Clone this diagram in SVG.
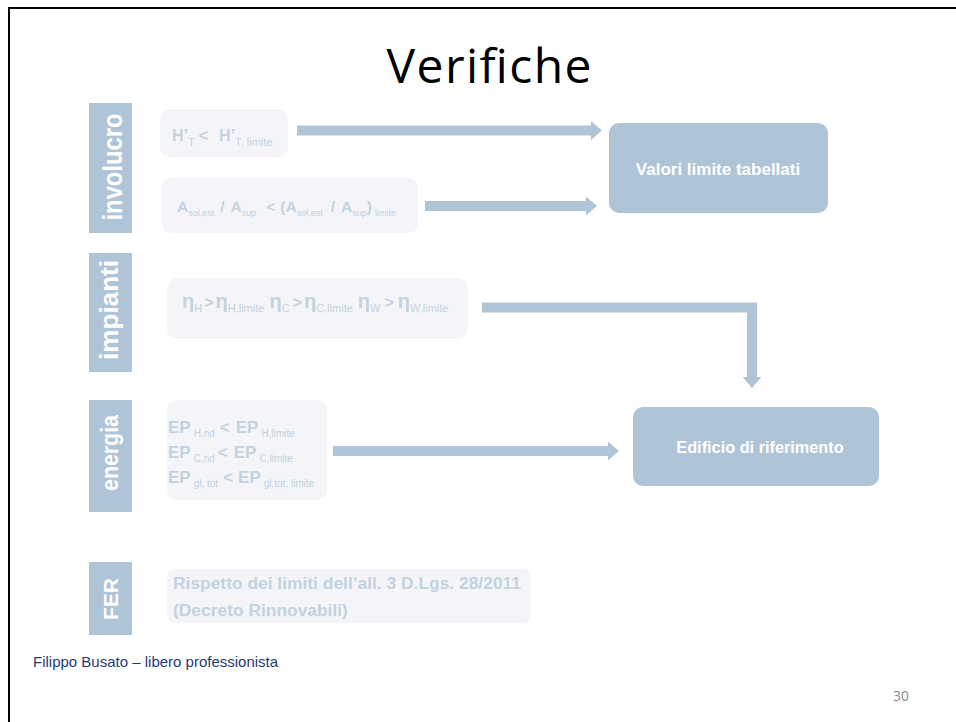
<svg xmlns="http://www.w3.org/2000/svg" width="956" height="722" viewBox="0 0 956 722">
<style>
.bar{fill:#afc5d7}
.lbox{fill:#f4f5f9}
.rbox{fill:#afc5d7}
.vt{font-family:"Liberation Sans",Arial,sans-serif;font-weight:bold;fill:#ffffff;text-anchor:middle}
.lt{font-family:"Liberation Sans",Arial,sans-serif;font-weight:bold;fill:#c3d2df}
.s{font-weight:normal}
.rt{font-family:"Liberation Sans",Arial,sans-serif;font-weight:bold;fill:#ffffff;text-anchor:middle}
.conn{fill:none;stroke:#afc5d7;stroke-width:10;stroke-linejoin:miter}
</style>
<defs>
<marker id="ah" markerUnits="userSpaceOnUse" markerWidth="11" markerHeight="19" refX="0" refY="9.5" orient="auto">
<path d="M0,0 L11,9.5 L0,19 Z" fill="#afc5d7"/>
</marker>
</defs>
<rect width="956" height="722" fill="#ffffff"/>
<path d="M9,722 V8 H956" fill="none" stroke="#000000" stroke-width="2"/>
<text x="489" y="83" font-family="'Open Sans','Noto Sans',sans-serif" font-size="48" text-anchor="middle" textLength="205" fill="#000000">Verifiche</text>

<g id="connectors">
<path class="conn" d="M297,130.5 H591" marker-end="url(#ah)"/>
<path class="conn" d="M425,206 H586" marker-end="url(#ah)"/>
<path class="conn" d="M482,307.5 H752 V377" marker-end="url(#ah)"/>
<path class="conn" d="M333,451 H608" marker-end="url(#ah)"/>
</g>

<g id="involucro">
<rect class="bar" x="89" y="103" width="43" height="130"/>
<text class="vt" font-size="27" transform="translate(121.5,167) rotate(-90)" textLength="107" lengthAdjust="spacingAndGlyphs">involucro</text>
</g>
<g id="impianti">
<rect class="bar" x="89" y="253" width="43" height="119"/>
<text class="vt" font-size="26" transform="translate(117.5,310) rotate(-90)" textLength="100" lengthAdjust="spacingAndGlyphs">impianti</text>
</g>
<g id="energia">
<rect class="bar" x="89" y="400" width="43" height="112"/>
<text class="vt" font-size="23" transform="translate(118,453) rotate(-90)" textLength="76" lengthAdjust="spacingAndGlyphs">energia</text>
</g>
<g id="fer">
<rect class="bar" x="89" y="562" width="43" height="73"/>
<text class="vt" font-size="21" transform="translate(118,599) rotate(-90)">FER</text>
</g>

<g id="h-t">
<rect class="lbox" x="160" y="109" width="128" height="48" rx="9"/>
<text class="lt" font-size="16" x="172" y="141">H’<tspan class="s" font-size="11" dy="5">T</tspan><tspan dx="4" dy="-5">&lt;</tspan><tspan dx="11">H’</tspan><tspan class="s" font-size="11" dy="5">T, limite</tspan></text>
</g>
<g id="a-sol">
<rect class="lbox" x="162" y="178" width="256" height="55" rx="9"/>
<text class="lt" font-size="15.5" x="177" y="212">A<tspan class="s" font-size="9" dy="4">sol,est</tspan><tspan dx="6" dy="-4">/</tspan><tspan dx="6">A</tspan><tspan class="s" font-size="9" dy="4">sup</tspan><tspan dx="10" dy="-4">&lt;</tspan><tspan dx="5">(A</tspan><tspan class="s" font-size="9" dy="4">sol,est</tspan><tspan dx="8" dy="-4">/</tspan><tspan dx="6">A</tspan><tspan class="s" font-size="9" dy="4">sup</tspan><tspan dy="-4">)</tspan><tspan class="s" font-size="9" dx="3" dy="4">limite</tspan></text>
</g>
<g id="eta">
<rect class="lbox" x="167" y="278" width="301" height="61" rx="10"/>
<text class="lt" font-size="20" x="182" y="308">η<tspan class="s" font-size="11" dy="4">H</tspan><tspan font-size="16" dx="2" dy="-4">&gt;</tspan><tspan dx="2">η</tspan><tspan class="s" font-size="11" dy="4">H,limite</tspan><tspan dx="5" dy="-4">η</tspan><tspan class="s" font-size="11" dy="4">C</tspan><tspan font-size="16" dx="3" dy="-4">&gt;</tspan><tspan dx="2">η</tspan><tspan class="s" font-size="11" dy="4">C,limite</tspan><tspan dx="5" dy="-4">η</tspan><tspan class="s" font-size="11" dy="4">W</tspan><tspan font-size="16" dx="4" dy="-4">&gt;</tspan><tspan dx="4">η</tspan><tspan class="s" font-size="11" dy="4">W,limite</tspan></text>
</g>
<g id="ep">
<rect class="lbox" x="167" y="400" width="160" height="100" rx="10"/>
<text class="lt" font-size="17" x="168" y="433">EP<tspan class="s" font-size="10" dx="3" dy="4">H,nd</tspan><tspan dx="5" dy="-4">&lt;</tspan><tspan dx="6">EP</tspan><tspan class="s" font-size="10" dx="3" dy="4">H,limite</tspan></text>
<text class="lt" font-size="17" x="168" y="458">EP<tspan class="s" font-size="10" dx="3" dy="4">C,nd</tspan><tspan dx="3" dy="-4">&lt;</tspan><tspan dx="6">EP</tspan><tspan class="s" font-size="10" dx="3" dy="4">C,limite</tspan></text>
<text class="lt" font-size="17" x="168" y="483">EP<tspan class="s" font-size="10" dx="3" dy="4">gl, tot</tspan><tspan dx="5" dy="-4">&lt;</tspan><tspan dx="5">EP</tspan><tspan class="s" font-size="10" dx="3" dy="4">gl,tot, limite</tspan></text>
</g>
<g id="fer-text">
<rect class="lbox" x="167" y="569" width="364" height="54" rx="8"/>
<text class="lt" font-size="17.4" x="173" y="589">Rispetto dei limiti dell’all. 3 D.Lgs. 28/2011</text>
<text class="lt" font-size="17.4" x="173" y="616">(Decreto Rinnovabili)</text>
</g>

<g id="valori">
<rect class="rbox" x="609" y="123" width="219" height="90" rx="10"/>
<text class="rt" font-size="17" x="718" y="175">Valori limite tabellati</text>
</g>
<g id="edificio">
<rect class="rbox" x="633" y="407" width="246" height="79" rx="10"/>
<text class="rt" font-size="16.3" x="760" y="453">Edificio di riferimento</text>
</g>

<text x="33" y="667" font-family="'Liberation Sans',Arial,sans-serif" font-size="15" fill="#1f3a78">Filippo Busato – libero professionista</text>
<text x="893" y="701" font-family="'Open Sans','Noto Sans',sans-serif" font-size="14" fill="#8a8a8a">30</text>
</svg>
